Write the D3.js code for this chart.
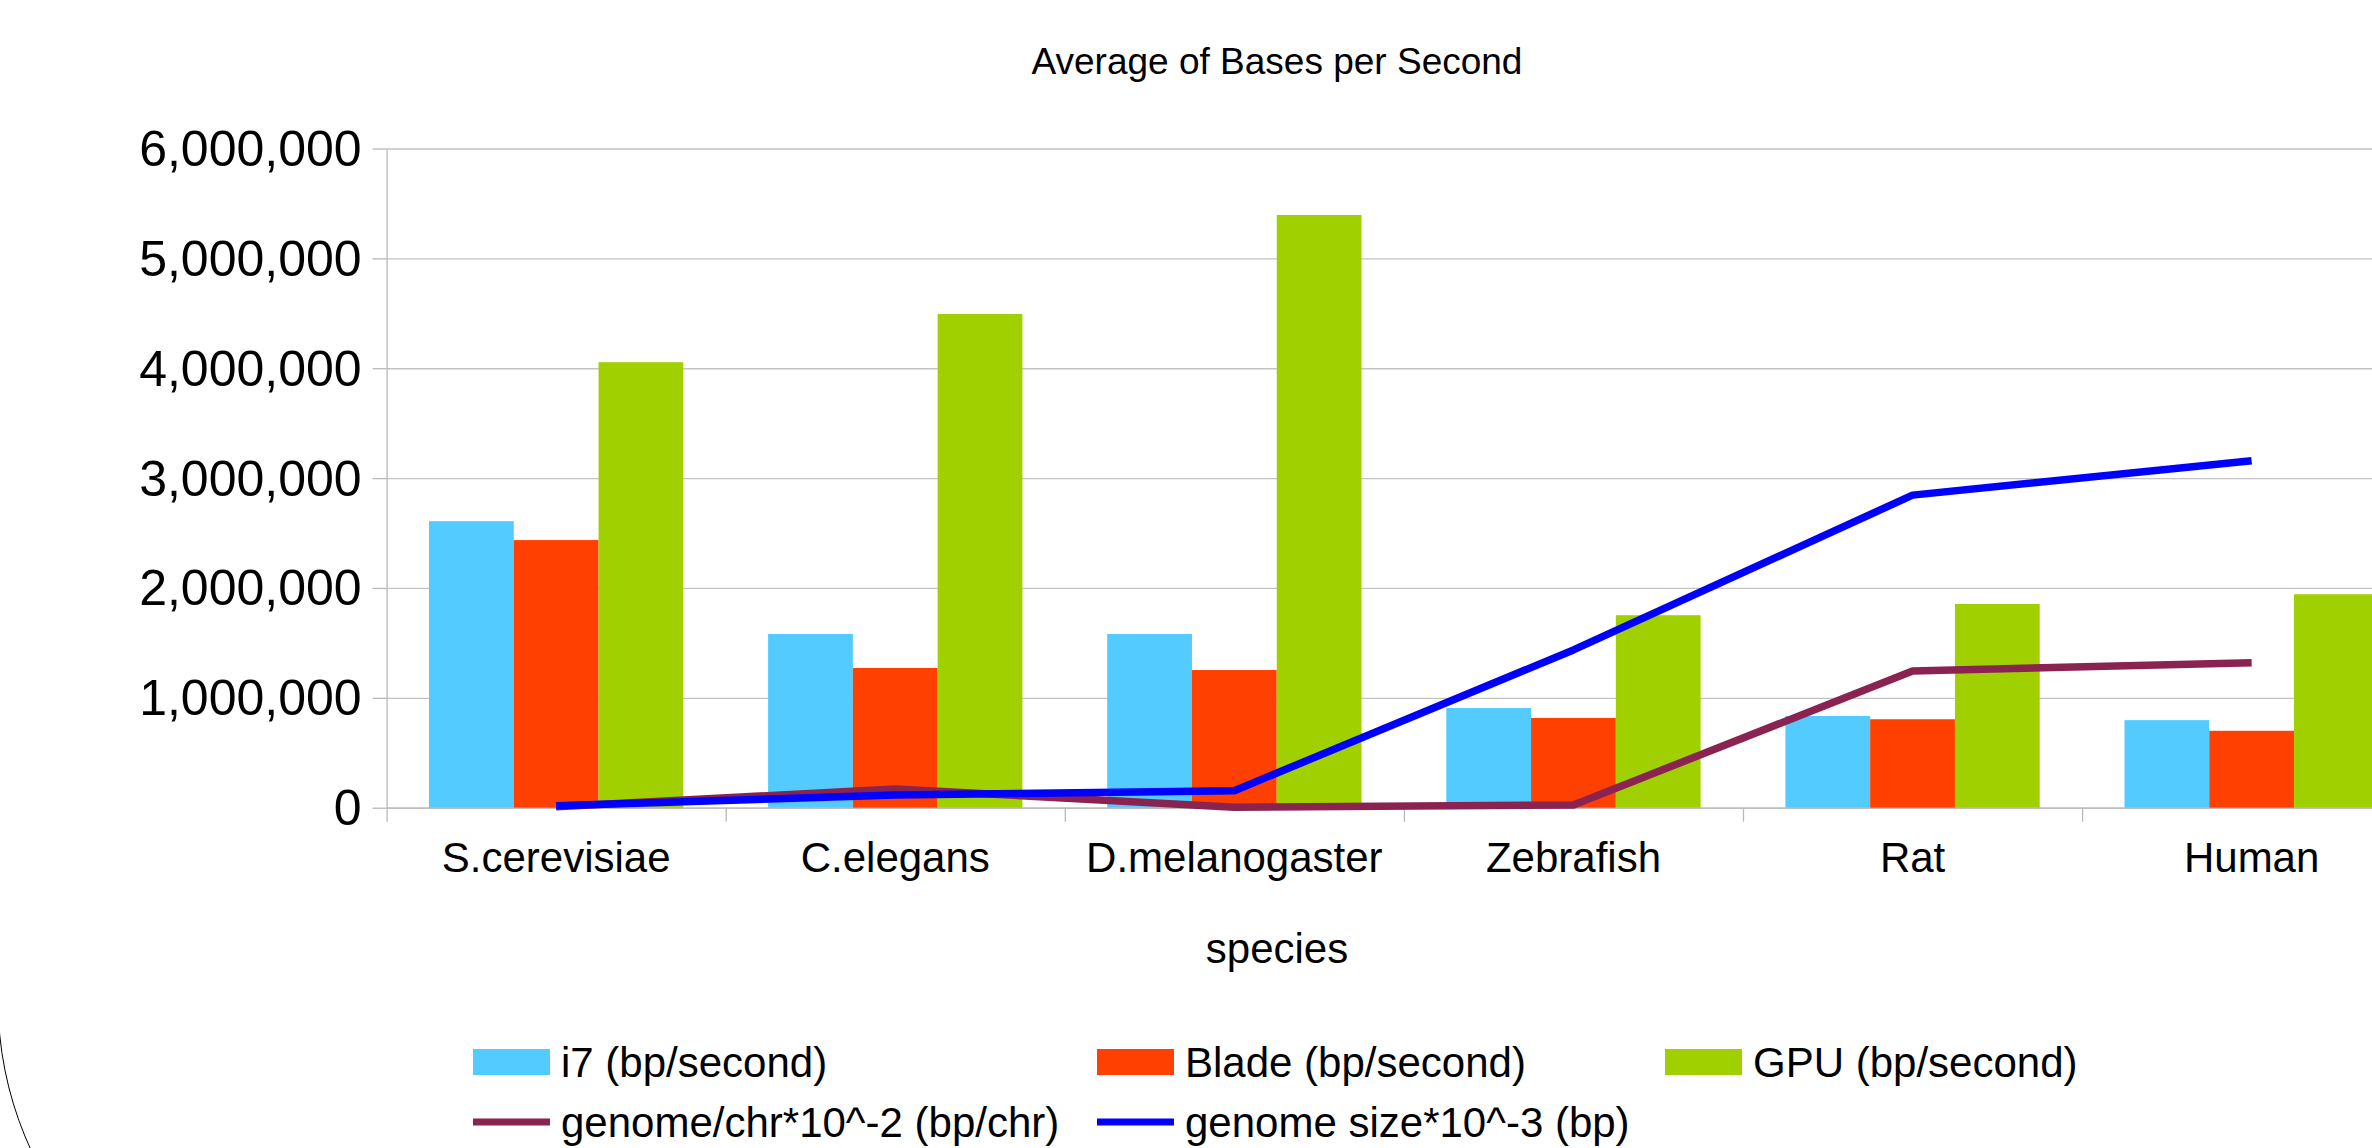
<!DOCTYPE html>
<html>
<head>
<meta charset="utf-8">
<script src="https://cdn.jsdelivr.net/npm/d3@7"></script>
<style>
  body { margin: 0; background: #fff; }
  text { font-family: "Liberation Sans", Arial, sans-serif; fill: #000; }
  .grid line { stroke: #c3c3c3; stroke-width: 1.3; }
  .grid path { display: none; }
  .axis path, .axis line { stroke: #b8b8b8; stroke-width: 1.3; }
</style>
</head>
<body>
<div id="chart"></div>
<script>

// chart data
var species = ["S.cerevisiae", "C.elegans", "D.melanogaster", "Zebrafish", "Rat", "Human"];
var i7Values = [2608000, 1581000, 1581000, 907000, 835000, 797000];
var bladeValues = [2436000, 1272000, 1253000, 817000, 805000, 700000];
var gpuValues = [4055000, 4494000, 5395000, 1752000, 1854000, 1943000];
var genomePerChr = [9000, 170000, 5000, 25000, 1244000, 1320000];
var genomeSize = [18000, 115000, 155000, 1436000, 2845000, 3158000];
var yTicks = [0, 1000000, 2000000, 3000000, 4000000, 5000000, 6000000];

var barSeries = ["i7 (bp/second)", "Blade (bp/second)", "GPU (bp/second)"];
var lineSeries = ["genome/chr*10^-2 (bp/chr)", "genome size*10^-3 (bp)"];

var W = 2372, H = 1148;

var svg = d3.select("#chart").append("svg")
    .attr("width", W)
    .attr("height", H);

// plot area (the chart runs past the right edge of the picture)
var plotLeft = 386.6, step = 339.1;
var plotTop = 148.5, plotBottom = 807.7;

var x0 = d3.scaleBand()
    .domain(species)
    .range([plotLeft, plotLeft + step * species.length])
    .paddingInner(0.25)
    .paddingOuter(0.125);

var x1 = d3.scaleBand()
    .domain(barSeries)
    .range([0, x0.bandwidth()]);

var xEdge = d3.scaleLinear()
    .domain([0, species.length])
    .range([plotLeft, plotLeft + step * species.length]);

var y = d3.scaleLinear()
    .domain([0, 6000000])
    .range([plotBottom, plotTop]);

var colors = {
    "i7 (bp/second)": "#53cbff",
    "Blade (bp/second)": "#ff4000",
    "GPU (bp/second)": "#a0d000",
    "genome/chr*10^-2 (bp/chr)": "#8b2350",
    "genome size*10^-3 (bp)": "#0000ff"
};

// gridlines
svg.append("g")
    .attr("class", "grid")
    .attr("transform", "translate(" + plotLeft + ",0)")
    .call(d3.axisLeft(y).tickValues(yTicks).tickSize(-(W - plotLeft)).tickFormat(""));

// y axis
var yAxis = svg.append("g")
    .attr("class", "axis")
    .attr("transform", "translate(" + plotLeft + ",0)")
    .call(d3.axisLeft(y)
        .tickValues(yTicks)
        .tickSize(14)
        .tickSizeOuter(0)
        .tickPadding(11)
        .tickFormat(d3.format(",")));
yAxis.selectAll("text")
    .style("font-size", "50px")
    .attr("dy", "0.34em");

// x axis ticks at category edges
svg.append("g")
    .attr("class", "axis")
    .attr("transform", "translate(0," + plotBottom + ")")
    .call(d3.axisBottom(xEdge)
        .tickValues(d3.range(species.length + 1))
        .tickSize(14)
        .tickSizeOuter(0)
        .tickFormat(""));

// category labels
var xLabels = svg.append("g")
    .attr("transform", "translate(0," + plotBottom + ")")
    .call(d3.axisBottom(x0).tickSize(0).tickPadding(34));
xLabels.select(".domain").remove();
xLabels.selectAll("text").style("font-size", "42px");

// bars
var rows = species.map(function(s, i) {
    return { name: s, vals: [i7Values[i], bladeValues[i], gpuValues[i]] };
});

var groups = svg.append("g").selectAll("g")
    .data(rows)
    .join("g")
    .attr("transform", function(d) { return "translate(" + x0(d.name) + ",0)"; });

groups.selectAll("rect")
    .data(function(d) { return d.vals.map(function(v, k) { return { key: barSeries[k], value: v }; }); })
    .join("rect")
    .attr("x", function(d) { return x1(d.key); })
    .attr("y", function(d) { return y(d.value); })
    .attr("width", x1.bandwidth())
    .attr("height", function(d) { return plotBottom - y(d.value); })
    .attr("fill", function(d) { return colors[d.key]; });

// lines
var line = d3.line()
    .x(function(d, i) { return x0(species[i]) + x0.bandwidth() / 2; })
    .y(function(d) { return y(d); });

[genomePerChr, genomeSize].forEach(function(vals, k) {
    svg.append("path")
        .datum(vals)
        .attr("fill", "none")
        .attr("stroke", colors[lineSeries[k]])
        .attr("stroke-width", 7.5)
        .attr("stroke-linejoin", "round")
        .attr("d", line);
});

// titles
svg.append("text")
    .attr("x", 1277)
    .attr("y", 74)
    .attr("text-anchor", "middle")
    .style("font-size", "37px")
    .text("Average of Bases per Second");

svg.append("text")
    .attr("x", 1277)
    .attr("y", 963)
    .attr("text-anchor", "middle")
    .style("font-size", "42px")
    .text("species");

// legend
var legendCols = [473, 1097, 1665];
var legendRows = [1062, 1122];
var legendItems = barSeries.map(function(s) { return { name: s, type: "bar" }; })
    .concat(lineSeries.map(function(s) { return { name: s, type: "line" }; }));

var legend = svg.append("g").selectAll("g")
    .data(legendItems)
    .join("g")
    .attr("transform", function(d, i) {
        var col = i < 3 ? i : i - 3;
        var row = i < 3 ? 0 : 1;
        return "translate(" + legendCols[col] + "," + legendRows[row] + ")";
    });

legend.append("rect")
    .attr("x", 0)
    .attr("y", function(d) { return d.type == "bar" ? -13 : -3.5; })
    .attr("width", 77)
    .attr("height", function(d) { return d.type == "bar" ? 26 : 7; })
    .attr("fill", function(d) { return colors[d.name]; });

legend.append("text")
    .attr("x", 88)
    .attr("dy", "0.35em")
    .style("font-size", "42px")
    .text(function(d) { return d.name; });

// stray frame corner in the bottom-left of the picture
svg.append("path")
    .attr("d", "M -2 1000 A 358 358 0 0 0 356 1358")
    .attr("fill", "none")
    .attr("stroke", "#000")
    .attr("stroke-width", 1);

</script>
</body>
</html>
